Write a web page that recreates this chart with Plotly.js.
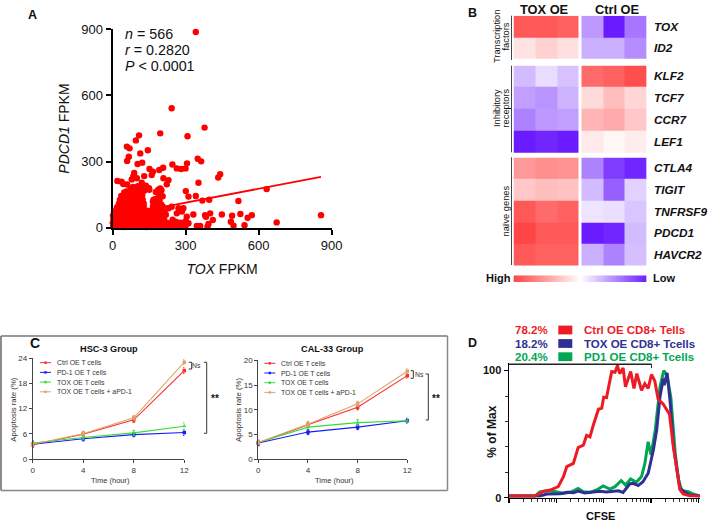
<!DOCTYPE html>
<html><head><meta charset="utf-8">
<script src="https://cdn.plot.ly/plotly-3.0.1.min.js"></script>
<style>html,body{margin:0;padding:0;background:#fff}#g{width:709px;height:524px}</style>
</head><body><div id="g"></div>
<script>
// ---------- Panel A data
const toxFpkm = [342,243,378,196,308,109,96,59,70,145,114,67,60,103,122,246,264,282,300,306,350,364,152,166,161,192,208,89,130,442,434,20,37,79,100,209,230,223,353,301,312,342,369,397,633,517,856,674,525,449,491,572,555,486,497,542,401,380,384,412,394,390,332,305,312,346,360,291,271,285,264,243,230,
3,8,14,21,29,38,47,55,66,74,85,92,104,118,127,139,148,160,171,183,196,207,221,236,251,268,285,300,
1,6,12,19,27,35,44,52,61,70,79,91,99,112,123,136,147,155,168,179,190,204,216,229,247,262,279,295,
4,10,17,25,33,41,50,58,68,76,87,96,108,120,131,142,153,164,176,188,199,212,247,
2,9,15,23,31,40,48,57,64,73,83,94,103,115,126,137,150,159,172,184,193,208,219,
6,13,20,28,37,45,54,62,71,81,90,101,110,122,133,145,156,167,178,189,202,214,
18,24,32,39,47,56,65,74,84,93,105,116,128,300,166,172,179,190,206,
26,34,43,51,60,69,78,88,98,109,119,128,166,176,188,200,
30,38,47,55,64,73,82,92,103,113,124,168,180,193,
36,44,53,62,71,80,90,100,111,122,178,192,206,
48,58,67,77,86,96,107,118,130,188,201,
75,84,93,104,116,127,138,150,44,120,137,151,196,
172,60,85];
const pdcd1Fpkm = [888,542,454,428,415,419,396,368,360,351,337,322,303,289,295,287,269,266,269,292,313,301,266,254,239,262,272,248,234,243,228,212,209,219,224,224,216,197,204,166,141,144,123,127,175,121,57,24,62,60,54,57,45,27,9,11,65,57,50,35,17,5,60,50,20,8,8,88,88,73,65,95,88,
5,9,4,11,6,8,3,10,7,5,12,4,9,6,10,3,8,5,11,7,4,9,6,10,5,8,4,9,
22,18,26,20,27,19,24,21,28,18,25,22,19,27,23,18,26,20,24,28,21,19,25,22,18,26,23,20,
38,42,36,44,40,35,43,38,45,37,41,36,44,39,35,42,38,45,36,41,43,37,36,
55,60,53,58,62,54,59,52,61,56,53,60,57,62,54,58,52,60,55,61,53,57,59,
74,71,78,73,80,72,76,79,70,75,78,72,80,74,71,77,73,79,75,71,76,72,
92,96,89,95,90,97,93,88,96,91,94,89,97,30,96,90,94,89,96,
108,112,106,114,109,105,113,107,111,106,114,110,118,109,112,106,
126,122,130,124,128,123,131,125,129,122,127,126,131,124,
144,141,148,143,150,142,146,149,141,147,162,150,143,
160,165,158,167,162,159,166,161,168,172,170,
178,185,176,188,181,175,186,179,198,204,190,172,178,
128,196,232];
const fitX = [0,856];
const fitY = [50,231];
const statLines = ['<i>n</i> = 566','<i>r</i> = 0.2820','<i>P</i> &lt; 0.0001'];

// ---------- Panel B data
const genes = ['TOX','ID2','KLF2','TCF7','CCR7','LEF1','CTLA4','TIGIT','TNFRSF9','PDCD1','HAVCR2'];
const groupSizes = [2,4,5];
const groupGaps = [0.295,0.23];
const conditions = ['TOX OE','Ctrl OE'];
const toxOe = [[.9,.9,.85],[.15,.25,.17],[-.3,-.15,-.27],[-.42,-.47,-.33],[-.55,-.45,-.42],[-1,-.95,-1],[.55,.6,.58],[.3,.35,.33],[.9,.8,.85],[1,.9,.9],[.9,.85,.85]];
const ctrlOe = [[-.45,-1,-.6],[-.35,-.35,-.5],[.8,.85,.95],[.2,.35,.22],[.4,.45,.3],[.12,.05,.1],[-.55,-.85,-.95],[-.3,-.7,-.2],[-.12,-.14,-.25],[-1,-.95,-.3],[-.35,-.55,-.28]];

// ---------- Panel C data
const seriesNames = ['Ctrl OE T cells','PD-1 OE T cells','TOX OE T cells','TOX OE T cells + aPD-1'];
const seriesColors = ['#ff2a2a','#1a1aff','#33dd33','#dba56a'];
const hours = [0,4,8,12];
const hscMeans = [[3.4,5.9,9.3,21],[3.5,4.8,5.8,6.3],[3.8,5.1,6.2,7.8],[3.5,6,9.8,23]];
const hscErrs = [[.7,.6,.6,.7],[.6,.5,.5,.7],[.6,.5,.6,.8],[.5,.6,.5,.6]];
const calMeans = [[3.3,7,10.5,16.9],[3.3,5.5,6.5,7.8],[3.4,6.5,7.4,7.8],[3.4,7.1,11.2,17.8]];
const calErrs = [[.6,.5,.5,.5],[.5,.5,.5,.5],[.4,.4,.6,.5],[.4,.5,.5,.5]];

// ---------- Panel D data (x = log10 CFSE decade, y = % of max)
const redLog = [0,.55,.72,.87,1.04,1.15,1.22,1.36,1.46,1.57,1.64,1.71,1.78,1.89,1.96,2,2.06,2.17,2.24,2.29,2.34,2.41,2.46,2.57,2.64,2.7,2.8,2.87,2.94,3.01,3.08,3.15,3.26,3.39,3.47,3.54,3.61,3.68,3.82,4.03];
const redPct = [1.3,1.3,5,6,8.7,16.5,24.4,27,39.4,41.3,49,47.8,57,69.6,70.4,79,78.7,99.2,98.7,104,97.6,102,87.2,99.2,86,97.6,84.5,89.7,86,96.9,91.9,77.5,73.5,65.6,40.7,22,6.3,2.9,1.6,1.3];
const blueLog = [0,.65,.8,.93,1.08,1.22,1.36,1.46,1.6,1.78,1.92,2.06,2.2,2.31,2.41,2.55,2.62,2.73,2.83,2.94,3.05,3.12,3.19,3.26,3.28,3.34,3.4,3.47,3.54,3.61,3.72,3.82,4.03];
const bluePct = [1.3,1.3,2.9,3.2,3.2,4.2,3.9,5.2,3.7,4.5,5,4.5,5,5.5,4.2,10.8,11.3,9.5,12.6,19.2,37.5,53.3,79.5,93.8,88.5,98.2,77.2,42.5,24.1,7.6,4.2,2.1,1.3];
const greenLog = [0,.55,.65,.81,1,1.15,1.32,1.46,1.57,1.71,1.85,1.99,2.13,2.24,2.37,2.46,2.57,2.69,2.8,2.87,2.94,3,3.09,3.19,3.27,3.34,3.42,3.51,3.58,3.65,3.79,3.89,4.03];
const greenPct = [1.3,1.3,4.5,5.5,4.7,3.4,4.7,7.3,4.7,4.2,6.1,9.2,6.8,8.7,13.4,10,14.7,12.1,16.6,27,44,33.6,53.3,87.2,100,96,78.7,35.4,14.1,5.5,4.7,2.9,1.3];
const gateLog = [0,3.01];
const gateLevel = [105,105];
const legendD = [['78.2%','Ctrl OE CD8+ Tells','#ed1c24'],['18.2%','TOX OE CD8+ Tcells','#2e3192'],['20.4%','PD1 OE CD8+ Tcells','#00a651']];

// ---------- helpers
const W=709,H=524,FONT='"Liberation Sans", Arial, sans-serif';
const dx=(a,b)=>[a/W,b/W], dy=(t,b)=>[1-b/H,1-t/H], fx=p=>p/W, fy=p=>1-p/H;
const ann=[],shp=[];
function text(x,y,t,size,opt={}){ann.push(Object.assign({xref:'paper',yref:'paper',x:fx(x),y:fy(y),text:t,showarrow:false,
  xanchor:'center',yanchor:'middle',borderpad:0,borderwidth:0},opt,{font:{family:FONT,size:size,color:opt.color||'#111'}}));}
function pline(x0,y0,x1,y1,c,w){shp.push({type:'line',xref:'paper',yref:'paper',x0:fx(x0),y0:fy(y0),x1:fx(x1),y1:fy(y1),line:{color:c,width:w}});}
function prect(x0,y0,x1,y1,c){shp.push({type:'rect',xref:'paper',yref:'paper',x0:fx(x0),y0:fy(y0),x1:fx(x1),y1:fy(y1),fillcolor:c,line:{width:0}});}
function bracket(x0,x1,y0,y1,c){pline(x0,y0,x1,y0,c,1);pline(x1,y0,x1,y1,c,1);pline(x0,y1,x1,y1,c,1);}

const traces=[];
// Panel A
traces.push({type:'scatter',mode:'markers',x:toxFpkm,y:pdcd1Fpkm,xaxis:'x',yaxis:'y',cliponaxis:false,marker:{color:'#ff0000',size:6.4,line:{width:0}}});
traces.push({type:'scatter',mode:'lines',x:fitX,y:fitY,xaxis:'x',yaxis:'y',cliponaxis:false,line:{color:'#ff0000',width:1.8}});
// Panel B heatmap
const yEdges=[0], rowC=[], zRows=[];
let r=0;
groupSizes.forEach((n,g)=>{for(let i=0;i<n;i++,r++){const t=yEdges[yEdges.length-1];rowC.push(t+.5);yEdges.push(t+1);
   zRows.push([...toxOe[r],null,...ctrlOe[r]]);}
  if(g<groupSizes.length-1){yEdges.push(yEdges[yEdges.length-1]+groupGaps[g]);zRows.push([null,null,null,null,null,null,null]);}});
const xEdges=[0,1,2,3,3.124,4.124,5.124,6.124];
const heatScale=[[0,'#6a1bff'],[.5,'#ffffff'],[1,'#ff4545']];
traces.push({type:'heatmap',x:xEdges,y:yEdges,z:zRows,xaxis:'x2',yaxis:'y2',zmin:-1,zmax:1,colorscale:heatScale,showscale:false,hoverongaps:false});
const rampZ=[[]],rampX=[];for(let i=0;i<=60;i++){rampZ[0].push(1-i/30);rampX.push(i);}
traces.push({type:'heatmap',x:rampX,y:[0],z:rampZ,xaxis:'x3',yaxis:'y3',zmin:-1,zmax:1,colorscale:heatScale,showscale:false,zsmooth:'best'});
// Panel C
function lineSet(means,errs,xa,ya){means.forEach((m,i)=>traces.push({type:'scatter',mode:'lines+markers',name:seriesNames[i],x:hours,y:m,xaxis:xa,yaxis:ya,cliponaxis:false,
  line:{color:seriesColors[i],width:1.1},marker:{color:seriesColors[i],size:3.5,symbol:i==2?'triangle-up':'square'},
  error_y:{type:'data',array:errs[i],color:seriesColors[i],thickness:1,width:1.2}}));}
lineSet(hscMeans,hscErrs,'x4','y4');
lineSet(calMeans,calErrs,'x5','y5');
// Panel D
[[greenLog,greenPct,legendD[2][2]],[blueLog,bluePct,legendD[1][2]],[redLog,redPct,legendD[0][2]]].forEach(s=>
  traces.push({type:'scatter',mode:'lines',x:s[0].map(v=>10**v),y:s[1],xaxis:'x6',yaxis:'y6',cliponaxis:false,line:{color:s[2],width:3,shape:'linear'}}));
traces.push({type:'scatter',mode:'lines',x:gateLog.map(v=>10**v),y:gateLevel,xaxis:'x6',yaxis:'y6',cliponaxis:false,line:{color:'#222',width:1.5}});
shp.push({type:'line',xref:'x6',yref:'y6',x0:10**gateLog[1],x1:10**gateLog[1],y0:102,y1:105,line:{color:'#222',width:1}});

// Annotations
text(32,15,'<b>A</b>',12.5);text(472,13,'<b>B</b>',12.5);text(35,343,'<b>C</b>',14);text(472,343,'<b>D</b>',12.5);
statLines.forEach((s,i)=>text(125,34+i*16.2,s,14.3,{xanchor:'left'}));
// B
conditions.forEach((c,i)=>text([544.3,617.7][i],9,'<b>'+c+'</b>',12.8));
pline(511.5,15.7,511.5,60,'#444',1);pline(511.5,65.7,511.5,152.3,'#444',1);pline(511.5,157.3,511.5,265,'#444',1);
text(497,37,'Transcription',9.3,{textangle:-90});text(505.5,37,'factors',9.3,{textangle:-90});
text(497,108,'Inhibitory',9.3,{textangle:-90});text(505.5,108,'receptors',9.3,{textangle:-90});
text(505.5,211,'naïve genes',9.3,{textangle:-90});
text(498,277.5,'<b>High</b>',11);text(652.7,277.5,'<b>Low</b>',11,{xanchor:'left'});
// C
const box={l:1,t:336,r:447.5,b:490.5};
pline(box.l,box.t,box.r,box.t,'#777',1.5);pline(box.l,box.t,box.l,box.b,'#666',1.5);pline(box.r,box.t,box.r,box.b,'#888',1.5);pline(box.l,box.b,box.r,box.b,'#888',1.5);
text(109.3,349,'<b>HSC-3 Group</b>',9.2);text(332.7,349,'<b>CAL-33 Group</b>',9.2);
text(110,480,'Time (hour)',7.5,{color:'#333'});text(334,480,'Time (hour)',7.5,{color:'#333'});
text(12.7,409,'Apoptosis rate (%)',7.8,{textangle:-90,color:'#333'});text(238,409,'Apoptosis rate (%)',7.8,{textangle:-90,color:'#333'});
function legC(lx,tx,y0){seriesNames.forEach((n,i)=>{const y=y0+i*9.7;pline(lx,y,lx+11,y,seriesColors[i],1);prect(lx+4.3,y-1.2,lx+6.7,y+1.2,seriesColors[i]);
  text(tx,y,n,6.9,{xanchor:'left',color:'#333'});});}
legC(40,57,362.7);legC(264.3,280.7,363.3);
bracket(188.7,191.7,362.3,369,'#333');text(196.8,365.5,'Ns',6.8,{color:'#333'});
bracket(204,206.7,362.3,433.3,'#333');text(214.7,398,'<b>**</b>',10);
bracket(410.7,413.3,370.7,378.3,'#333');text(419.5,374,'Ns',6.8,{color:'#333'});
bracket(425.7,428.3,374,420,'#333');text(435.7,398,'<b>**</b>',10);
// D
legendD.forEach((l,i)=>{const y=[330,343.5,356.7][i];text(515,y,'<b>'+l[0]+'</b>',11.5,{xanchor:'left',color:l[2]});prect(558.3,y-4.4,572.3,y+4.4,l[2]);text(584,y,'<b>'+l[1]+'</b>',11.5,{xanchor:'left',color:l[2]});});
text(492,431.7,'<b>% of Max</b>',12,{textangle:-90});text(600.7,515.7,'<b>CFSE</b>',11);

const base={showgrid:false,zeroline:false,showline:true,linecolor:'#000',ticks:'outside',tickcolor:'#000',fixedrange:true};
function axC(dom,anchor,range,dt){return Object.assign({},base,{domain:dom,anchor,range,dtick:dt,tick0:0,linewidth:1,linecolor:'#444',tickcolor:'#444',ticklen:3,tickwidth:1,tickfont:{family:FONT,size:8,color:'#333'}});}
const layout={width:W,height:H,margin:{l:0,r:0,t:0,b:0},paper_bgcolor:'#fff',plot_bgcolor:'rgba(0,0,0,0)',showlegend:false,annotations:ann,shapes:shp,font:{family:FONT},
 xaxis:Object.assign({},base,{domain:dx(112.5,331.7),anchor:'y',range:[0,900],tick0:0,dtick:300,linewidth:2,ticklen:5,tickwidth:2,tickfont:{family:FONT,size:13,color:'#111'},
   title:{text:'<i>TOX</i> FPKM',font:{family:FONT,size:14,color:'#111'},standoff:12}}),
 yaxis:Object.assign({},base,{domain:dy(29.3,227.7),anchor:'x',range:[0,900],tick0:0,dtick:300,linewidth:2,ticklen:5,tickwidth:2,tickfont:{family:FONT,size:13,color:'#111'},
   title:{text:'<i>PDCD1</i> FPKM',font:{family:FONT,size:14,color:'#111'},standoff:8}}),
 xaxis2:{domain:dx(513.5,646.7),anchor:'y2',range:[0,6.124],visible:false,fixedrange:true},
 yaxis2:{domain:dy(15.7,265.7),anchor:'x2',range:[yEdges[yEdges.length-1],0],side:'right',showgrid:false,zeroline:false,showline:false,fixedrange:true,ticks:'outside',ticklen:4,tickcolor:'rgba(0,0,0,0)',
   tickmode:'array',tickvals:rowC,ticktext:genes.map(g=>'<b><i>'+g+'</i></b>'),tickfont:{family:FONT,size:11.8,color:'#111'}},
 xaxis3:{domain:dx(513.5,646.7),anchor:'y3',range:[0,60],visible:false,fixedrange:true},
 yaxis3:{domain:dy(275.3,282),anchor:'x3',range:[-.5,.5],visible:false,fixedrange:true},
 xaxis4:axC(dx(32.7,184.3),'y4',[0,12],4),yaxis4:axC(dy(358,459),'x4',[0,24],6),
 xaxis5:axC(dx(258.3,407.3),'y5',[0,12],4),yaxis5:axC(dy(360.3,459.3),'x5',[0,20],5),
 xaxis6:Object.assign({},base,{domain:dx(509,700),anchor:'y6',type:'log',range:[0,4.035],tickmode:'linear',tick0:0,dtick:1,linewidth:1.5,ticklen:4,tickwidth:1.2,showticklabels:false,
   minor:{dtick:'D1',ticks:'outside',ticklen:2.5,tickcolor:'#000',tickwidth:.8,showgrid:false}}),
 yaxis6:Object.assign({},base,{domain:dy(362.7,497.7),anchor:'x6',range:[0,106.2],tickmode:'array',tickvals:[0,100],ticktext:['<b>0</b>','<b>100</b>'],linewidth:1.5,ticklen:4,tickwidth:1.2,
   tickfont:{family:FONT,size:11,color:'#111'},minor:{dtick:20,ticks:'outside',ticklen:2.5,tickcolor:'#000',tickwidth:.8,showgrid:false}})
};
Plotly.newPlot('g',traces,layout,{staticPlot:true,displayModeBar:false});
</script></body></html>
